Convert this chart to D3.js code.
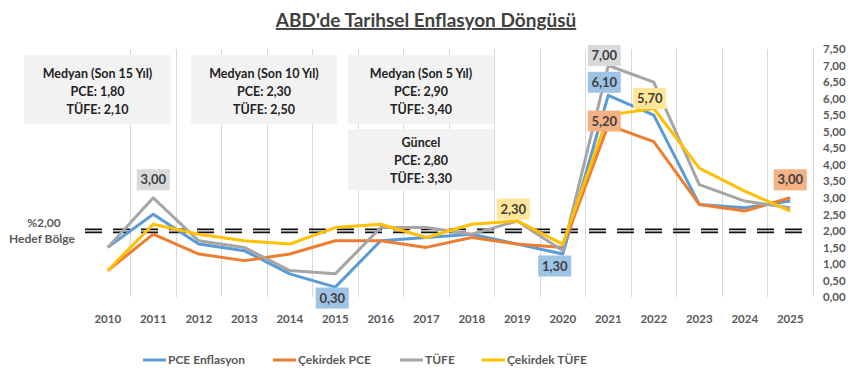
<!DOCTYPE html>
<html>
<head>
<meta charset="utf-8">
<script src="https://cdn.jsdelivr.net/npm/d3@7"></script>
<style>
  body { margin: 0; background: #fff; }
  svg { display: block; font-family: Lato, "Open Sans", sans-serif; }
</style>
</head>
<body>
<svg id="chart" width="853" height="372"></svg>
<script>
// data
var years = ["2010", "2011", "2012", "2013", "2014", "2015", "2016", "2017",
             "2018", "2019", "2020", "2021", "2022", "2023", "2024", "2025"];
var pce     = [1.5, 2.5, 1.6, 1.4, 0.7, 0.3, 1.7, 1.8, 1.9, 1.6, 1.3, 6.1, 5.5, 2.8, 2.7, 2.9];
var corePce = [0.8, 1.9, 1.3, 1.1, 1.3, 1.7, 1.7, 1.5, 1.8, 1.6, 1.5, 5.2, 4.7, 2.8, 2.6, 3.0];
var cpi     = [1.5, 3.0, 1.7, 1.5, 0.8, 0.7, 2.1, 2.1, 1.9, 2.3, 1.4, 7.0, 6.5, 3.4, 2.9, 2.7];
var coreCpi = [0.8, 2.2, 1.9, 1.7, 1.6, 2.1, 2.2, 1.8, 2.2, 2.3, 1.6, 5.5, 5.7, 3.9, 3.2, 2.6];
var target = 2.0;
var yTicks = d3.range(0, 7.51, 0.5);

var seriesNames = ["PCE Enflasyon", "Çekirdek PCE", "TÜFE", "Çekirdek TÜFE"];
var seriesValues = [pce, corePce, cpi, coreCpi];
var seriesColors = ["#5B9BD5", "#ED7D31", "#A5A5A5", "#FFC000"];
var labelFills = ["#9DC3E6", "#F4B183", "#D9D9D9", "#FFE699"];

// which points carry a value box (series index, year index, offset of box)
var dataLabels = [
  { s: 2, i: 1, dx: 0, dy: -18 },
  { s: 0, i: 5, dx: -3, dy: 11 },
  { s: 3, i: 9, dx: -4, dy: -12 },
  { s: 0, i: 10, dx: -8, dy: 12 },
  { s: 2, i: 11, dx: -4, dy: -10 },
  { s: 0, i: 11, dx: -4, dy: -13 },
  { s: 1, i: 11, dx: -4, dy: -4 },
  { s: 3, i: 12, dx: -4, dy: -10 },
  { s: 1, i: 15, dx: 0, dy: -18 }
];

var noteBoxes = [
  { x: 24, y: 55, w: 147, h: 69, lines: ["Medyan (Son 15 Yıl)", "PCE: 1,80", "TÜFE: 2,10"] },
  { x: 191, y: 55, w: 146, h: 69, lines: ["Medyan (Son 10 Yıl)", "PCE: 2,30", "TÜFE: 2,50"] },
  { x: 348, y: 55, w: 146, h: 69, lines: ["Medyan (Son 5 Yıl)", "PCE: 2,90", "TÜFE: 3,40"] },
  { x: 348, y: 129, w: 146, h: 61, lines: ["Güncel", "PCE: 2,80", "TÜFE: 3,30"] }
];

var fmt = function (v) { return d3.format(".2f")(v).replace(".", ","); };

var svg = d3.select("#chart");
var plotL = 85, plotR = 813, plotT = 49, plotB = 297;

var x = d3.scaleBand().domain(years).range([plotL, plotR]);
var y = d3.scaleLinear().domain([0, 7.5]).range([plotB, plotT]);
var cx = function (d) { return x(d) + x.bandwidth() / 2; };

// title
svg.append("text")
  .attr("x", 426).attr("y", 27)
  .attr("text-anchor", "middle")
  .attr("font-size", 19).attr("font-weight", "bold")
  .attr("fill", "#404040")
  .attr("text-decoration", "underline")
  .text("ABD'de Tarihsel Enflasyon Döngüsü");

// vertical gridlines at category boundaries
svg.append("g").selectAll("line")
  .data(years.slice(1).concat(["end"]))
  .join("line")
  .attr("x1", function (d) { return d === "end" ? plotR : x(d); })
  .attr("x2", function (d) { return d === "end" ? plotR : x(d); })
  .attr("y1", plotT).attr("y2", plotB)
  .attr("stroke", "#D9D9D9").attr("stroke-width", 1)
  .attr("shape-rendering", "crispEdges");

// note boxes
var notes = svg.append("g").selectAll("g").data(noteBoxes).join("g");
notes.append("rect")
  .attr("x", function (d) { return d.x; }).attr("y", function (d) { return d.y; })
  .attr("width", function (d) { return d.w; }).attr("height", function (d) { return d.h; })
  .attr("fill", "#F2F2F2");
notes.each(function (d) {
  var g = d3.select(this);
  var first = d.y + (d.h === 69 ? 23 : 18);
  d.lines.forEach(function (t, k) {
    g.append("text")
      .attr("x", d.x + d.w / 2).attr("y", first + k * 18)
      .attr("text-anchor", "middle")
      .attr("font-size", 12.5).attr("font-weight", "bold")
      .attr("fill", "#222")
      .text(t);
  });
});

// 2% target: two dashed lines
[-1.5, 1.5].forEach(function (off) {
  svg.append("line")
    .attr("x1", plotL).attr("x2", plotR)
    .attr("y1", y(target) + off).attr("y2", y(target) + off)
    .attr("stroke", "#111").attr("stroke-width", 1.8)
    .attr("stroke-dasharray", "17,11");
});
svg.append("text")
  .attr("x", 44).attr("y", 227)
  .attr("text-anchor", "middle")
  .attr("font-size", 12).attr("font-weight", "bold").attr("fill", "#595959")
  .text("%" + fmt(target));
svg.append("text")
  .attr("x", 42).attr("y", 243)
  .attr("text-anchor", "middle")
  .attr("font-size", 12).attr("font-weight", "bold").attr("fill", "#595959")
  .text("Hedef Bölge");

// lines
var line = d3.line()
  .x(function (d, i) { return cx(years[i]); })
  .y(function (d) { return y(d); });

svg.append("g").selectAll("path")
  .data(seriesValues)
  .join("path")
  .attr("d", line)
  .attr("fill", "none")
  .attr("stroke", function (d, i) { return seriesColors[i]; })
  .attr("stroke-width", 3)
  .attr("stroke-linejoin", "round");

// value boxes
var lab = svg.append("g").selectAll("g").data(dataLabels).join("g")
  .attr("transform", function (d) {
    return "translate(" + (cx(years[d.i]) + d.dx) + "," + (y(seriesValues[d.s][d.i]) + d.dy) + ")";
  });
lab.append("rect")
  .attr("x", -16.5).attr("y", -10.5).attr("width", 33).attr("height", 21)
  .attr("fill", function (d) { return labelFills[d.s]; });
lab.append("text")
  .attr("text-anchor", "middle").attr("dy", "0.36em")
  .attr("font-size", 13).attr("font-weight", "bold").attr("fill", "#404040")
  .text(function (d) { return fmt(seriesValues[d.s][d.i]); });

// right axis
var yAxis = d3.axisRight(y).tickValues(yTicks).tickFormat(fmt).tickSize(0).tickPadding(10);
var ya = svg.append("g").attr("transform", "translate(" + plotR + ",0)").call(yAxis);
ya.select(".domain").remove();
ya.selectAll("text")
  .attr("font-family", "Lato, sans-serif")
  .attr("font-size", 11.5).attr("font-weight", "bold").attr("fill", "#595959");

// bottom axis
var xAxis = d3.axisBottom(x).tickSize(0).tickPadding(18);
var xa = svg.append("g").attr("transform", "translate(0," + plotB + ")").call(xAxis);
xa.select(".domain").remove();
xa.selectAll("text")
  .attr("font-family", "Lato, sans-serif")
  .attr("font-size", 11.5).attr("font-weight", "bold").attr("fill", "#595959");

// legend
var legendX = [143, 273, 400, 482];
var leg = svg.append("g").selectAll("g").data(seriesNames).join("g")
  .attr("transform", function (d, i) { return "translate(" + legendX[i] + ",360)"; });
leg.append("line")
  .attr("x1", 0).attr("x2", 23)
  .attr("stroke", function (d, i) { return seriesColors[i]; })
  .attr("stroke-width", 3);
leg.append("text")
  .attr("x", 25).attr("dy", "0.36em")
  .attr("font-size", 12).attr("font-weight", "bold").attr("fill", "#595959")
  .text(function (d) { return d; });
</script>
</body>
</html>
